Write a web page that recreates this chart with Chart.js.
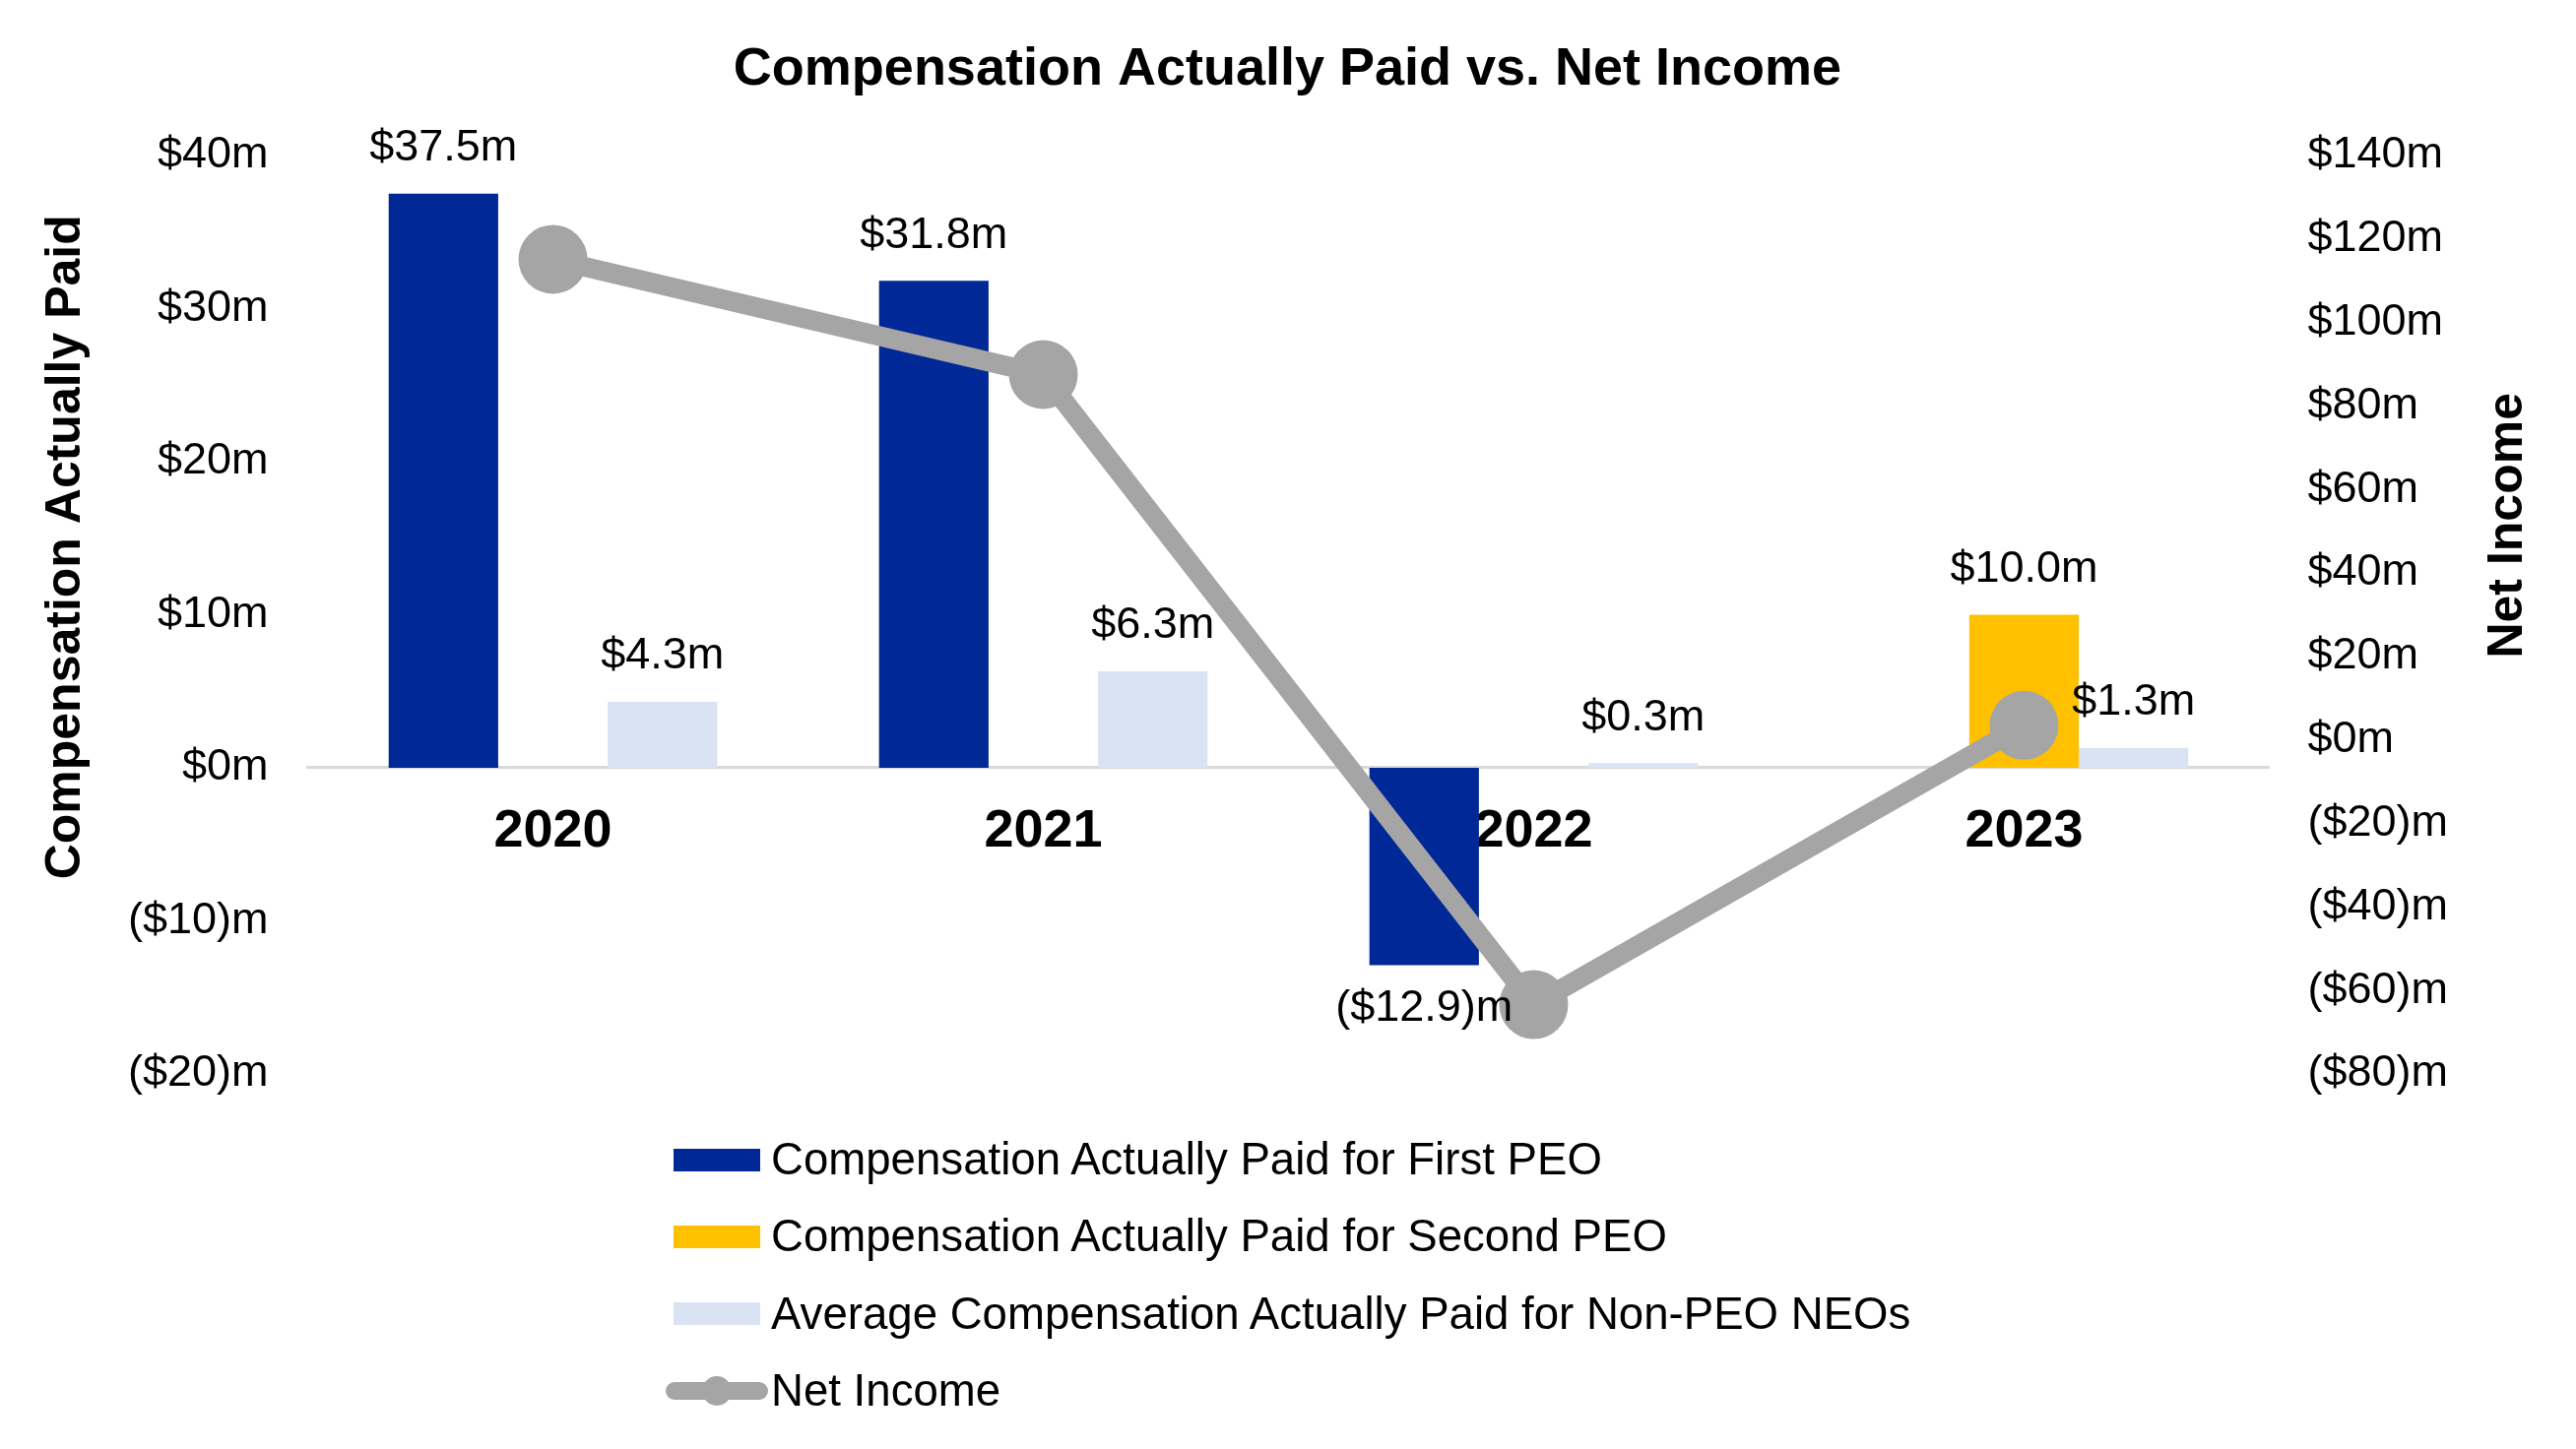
<!doctype html>
<html lang="en">

<head>
  <meta charset="UTF-8">
  <title>Compensation Actually Paid vs. Net Income</title>
  <style>
    html,
    body {
      margin: 0;
      padding: 0;
      background: #fff;
      color: #000;
      font-family: Arial, "Liberation Sans", Helvetica, sans-serif;
    }

    #wrap {
      position: relative;
      width: 2616px;
      height: 1472px;
    }

    #legend {
      position: absolute;
      left: 684px;
      top: 1139px;
      margin: 0;
      padding: 0;
      list-style: none;
    }

    #legend li {
      display: flex;
      align-items: center;
      height: 78.3px;
      font-size: 45.6px;
      white-space: nowrap;
    }

    .swatch {
      width: 88px;
      height: 23px;
      margin-right: 11px;
    }

    .lineswatch {
      position: relative;
      width: 104px;
      height: 36px;
      margin-left: -8px;
      margin-right: 3px;
    }

    .lineswatch .stroke {
      position: absolute;
      left: 0;
      top: 9px;
      width: 104px;
      height: 18px;
      border-radius: 9px;
    }

    .lineswatch .dot {
      position: absolute;
      left: 37px;
      top: 3px;
      width: 30px;
      height: 30px;
      border-radius: 50%;
    }
  </style>
</head>

<body>
  <div id="wrap">
    <canvas id="datavis" width="2616" height="1472"></canvas>
    <ul id="legend"></ul>
  </div>

  <script src="https://cdn.jsdelivr.net/npm/chart.js@4.4.1/dist/chart.umd.min.js"></script>

  <script>

    // values, in $m
    const years = ['2020', '2021', '2022', '2023'];
    const firstPeo = [37.5, 31.8, -12.9, null];
    const secondPeo = [null, null, null, 10.0];
    const nonPeo = [4.3, 6.3, 0.3, 1.3];
    const netIncome = [115.1, 87.5, -63.4, 3.5];

    const chartTitle = 'Compensation Actually Paid vs. Net Income';
    const leftTitle = 'Compensation Actually Paid';
    const rightTitle = 'Net Income';

    const FONT = 'Arial, "Liberation Sans", Helvetica, sans-serif';
    const navy = '#002896';
    const gold = '#FFC000';
    const paleBlue = '#DAE3F3';
    const grey = '#A5A5A5';

    function money(v) {
      return v < 0 ? '($' + Math.abs(v) + ')m' : '$' + v + 'm';
    }

    function money1(v) {
      return v < 0 ? '($' + Math.abs(v).toFixed(1) + ')m' : '$' + v.toFixed(1) + 'm';
    }

    // value labels over / under each bar
    const barLabels = {
      id: 'barLabels',
      afterDatasetsDraw(chart) {
        const ctx = chart.ctx;
        ctx.save();
        ctx.font = '45px ' + FONT;
        ctx.fillStyle = '#000';
        ctx.textAlign = 'center';
        ctx.textBaseline = 'middle';
        chart.data.datasets.forEach(function (ds, i) {
          if (ds.type !== 'bar') return;
          chart.getDatasetMeta(i).data.forEach(function (bar, j) {
            const v = ds.data[j];
            if (v === null) return;
            const y = v >= 0 ? bar.y - 46 : bar.y + 44;
            ctx.fillText(money1(v), bar.x, y);
          });
        });
        ctx.restore();
      }
    };

    // both axis titles read bottom-to-top
    const axisTitles = {
      id: 'axisTitles',
      afterDraw(chart) {
        const ctx = chart.ctx;
        const area = chart.chartArea;
        const items = [
          [leftTitle, area.left - 245, area.top + 398],
          [rightTitle, area.right + 243, area.top + 376]
        ];
        ctx.save();
        ctx.font = 'bold 50px ' + FONT;
        ctx.fillStyle = '#000';
        ctx.textAlign = 'center';
        ctx.textBaseline = 'middle';
        items.forEach(function (t) {
          ctx.save();
          ctx.translate(t[1], t[2]);
          ctx.rotate(-Math.PI / 2);
          ctx.fillText(t[0], 0, 0);
          ctx.restore();
        });
        ctx.restore();
      }
    };

    Chart.defaults.font.family = FONT;
    Chart.defaults.color = '#000';

    const chart = new Chart('datavis', {
      data: {
        labels: years,
        datasets: [
          {
            type: 'bar',
            label: 'Compensation Actually Paid for First PEO',
            data: firstPeo,
            backgroundColor: navy,
            yAxisID: 'y',
            order: 1
          },
          {
            type: 'bar',
            label: 'Compensation Actually Paid for Second PEO',
            data: secondPeo,
            backgroundColor: gold,
            yAxisID: 'y',
            order: 1
          },
          {
            type: 'bar',
            label: 'Average Compensation Actually Paid for Non-PEO NEOs',
            data: nonPeo,
            backgroundColor: paleBlue,
            yAxisID: 'y',
            order: 1
          },
          {
            type: 'line',
            label: 'Net Income',
            data: netIncome,
            yAxisID: 'y1',
            borderColor: grey,
            backgroundColor: grey,
            borderWidth: 20,
            pointRadius: 35,
            pointHoverRadius: 35,
            pointBackgroundColor: grey,
            pointBorderWidth: 0,
            tension: 0,
            clip: false,
            order: 0
          }
        ]
      },
      options: {
        responsive: false,
        animation: false,
        devicePixelRatio: 1,
        layout: {
          padding: { left: 90, right: 91, top: 0, bottom: 381 }
        },
        datasets: {
          bar: { categoryPercentage: 0.67, barPercentage: 1.0 }
        },
        plugins: {
          legend: { display: false },
          tooltip: { enabled: false },
          title: {
            display: true,
            text: chartTitle,
            color: '#000',
            font: { size: 54, weight: 'bold' },
            padding: { top: 39, bottom: 54 }
          }
        },
        scales: {
          x: {
            type: 'category',
            position: { y: 0 },
            grid: { display: false, drawTicks: false },
            border: { display: true, color: '#D9D9D9', width: 3 },
            ticks: { font: { size: 54, weight: 'bold' }, padding: 33, maxRotation: 0 }
          },
          y: {
            position: 'left',
            min: -20,
            max: 40,
            grid: { display: false, drawTicks: false },
            border: { display: false },
            ticks: { stepSize: 10, padding: 40, font: { size: 45 }, callback: (v) => money(v) }
          },
          y1: {
            position: 'right',
            min: -80,
            max: 140,
            grid: { display: false, drawTicks: false },
            border: { display: false },
            ticks: { stepSize: 20, padding: 39, font: { size: 45 }, callback: (v) => money(v) }
          }
        }
      },
      plugins: [barLabels, axisTitles]
    });

    // legend as an html list, one entry per row like the original
    const legend = document.getElementById('legend');
    chart.data.datasets.forEach(function (ds) {
      const li = document.createElement('li');
      if (ds.type === 'line') {
        li.innerHTML = '<span class="lineswatch"><span class="stroke" style="background:' + ds.borderColor +
          '"></span><span class="dot" style="background:' + ds.borderColor + '"></span></span>';
      } else {
        li.innerHTML = '<span class="swatch" style="background:' + ds.backgroundColor + '"></span>';
      }
      li.appendChild(document.createTextNode(ds.label));
      legend.appendChild(li);
    });
  </script>
</body>

</html>
